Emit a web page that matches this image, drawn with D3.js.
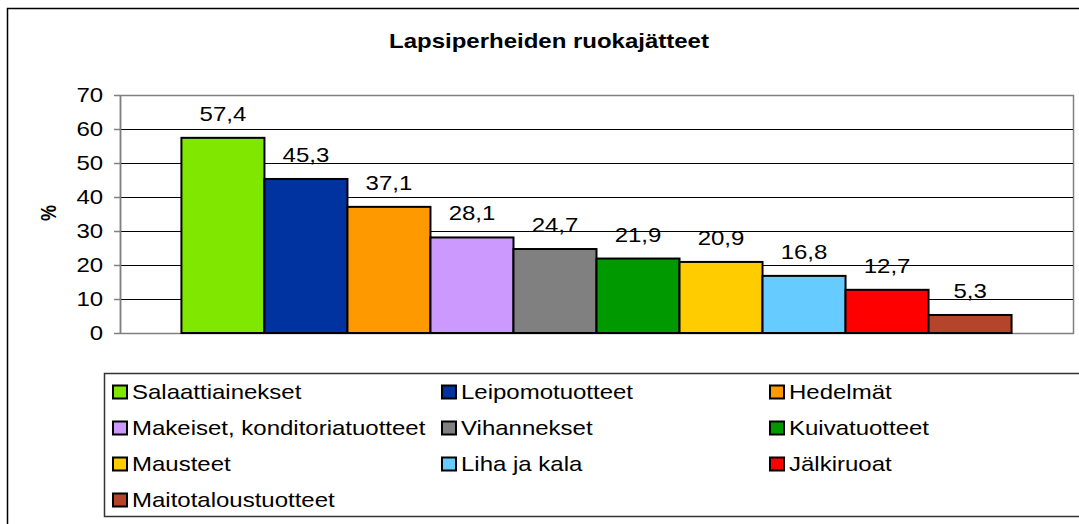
<!DOCTYPE html>
<html>
<head>
<meta charset="utf-8">
<script src="https://cdn.jsdelivr.net/npm/d3@7"></script>
<style>
  body { margin: 0; background: #fff; }
  svg { display: block; font-family: "Liberation Sans", Arial, sans-serif; }
  .y-axis path, .y-axis line { stroke: #808080; }
  .y-axis .domain { stroke: #808080; }
  .grid line { stroke: #000; }
  .grid .domain { display: none; }
</style>
</head>
<body>
<div id="chart--wrap"></div>
<script>
const categories = ['Salaattiainekset', 'Leipomotuotteet', 'Hedelmät',
  'Makeiset, konditoriatuotteet', 'Vihannekset', 'Kuivatuotteet',
  'Mausteet', 'Liha ja kala', 'Jälkiruoat', 'Maitotaloustuotteet'];
const values = [57.4, 45.3, 37.1, 28.1, 24.7, 21.9, 20.9, 16.8, 12.7, 5.3];
const yTicks = [0, 10, 20, 30, 40, 50, 60, 70];
const palette = ['#80E800', '#0033A0', '#FF9900', '#CC99FF', '#808080',
  '#009900', '#FFCC00', '#66CCFF', '#FF0000', '#B5452A'];
const title = 'Lapsiperheiden ruokajätteet';
const yLabel = '%';

const W = 1079, H = 524;
const plot = { left: 120, top: 95, right: 1073, bottom: 333 };
const stretch = 1.2; // text in the reference is wider than it is tall

const fi = d3.formatLocale({ decimal: ',', thousands: ' ', grouping: [3], currency: ['', ''] });
const fmt = fi.format('.1f');

const svg = d3.select('#chart--wrap').append('svg')
  .attr('width', W)
  .attr('height', H);

// outer chart border
svg.append('rect')
  .attr('x', 7.5).attr('y', 8.5)
  .attr('width', W + 10).attr('height', H + 10)
  .attr('fill', '#fff').attr('stroke', '#000').attr('stroke-width', 1.5);

// helper: put text at (x, y) stretched horizontally
const place = (x, y) => `translate(${x},${y}) scale(${stretch},1)`;

// title
svg.append('text')
  .attr('transform', place(549, 48))
  .attr('text-anchor', 'middle')
  .style('font-size', '20px')
  .style('font-weight', 'bold')
  .text(title);

// scales
const y = d3.scaleLinear().domain([0, 70]).range([plot.bottom, plot.top]);
const x0 = d3.scaleBand().domain(['all']).range([plot.left, plot.right])
  .paddingInner(0).paddingOuter(0.074);
const x = d3.scaleBand().domain(categories)
  .range([x0('all'), x0('all') + x0.bandwidth()]).padding(0);
const color = d3.scaleOrdinal().domain(categories).range(palette);

// plot area border (top / right)
svg.append('rect')
  .attr('x', plot.left + 0.5).attr('y', plot.top + 0.5)
  .attr('width', plot.right - plot.left).attr('height', plot.bottom - plot.top)
  .attr('fill', 'none').attr('stroke', '#808080').attr('stroke-width', 1.5);

// grid lines
svg.append('g')
  .attr('class', 'grid')
  .attr('transform', `translate(${plot.left},0)`)
  .call(d3.axisLeft(y).tickValues(yTicks.filter(d => d > 0 && d < 70))
    .tickSize(-(plot.right - plot.left)).tickFormat(''));

// y axis
const yAxisG = svg.append('g')
  .attr('class', 'y-axis')
  .attr('transform', `translate(${plot.left},0)`)
  .call(d3.axisLeft(y).tickValues(yTicks).tickSize(6).tickPadding(8).tickSizeOuter(0));
yAxisG.selectAll('path, line').attr('stroke-width', 1.5);
yAxisG.selectAll('text')
  .attr('fill', '#000')
  .style('font-size', '20px')
  .style('font-family', '"Liberation Sans", Arial, sans-serif')
  .attr('transform', `scale(${stretch},1)`);

// y label
svg.append('text')
  .attr('transform', `translate(56,213) rotate(-90) scale(1,${stretch})`)
  .attr('text-anchor', 'middle')
  .style('font-size', '18px')
  .style('font-weight', 'bold')
  .text(yLabel);

// bars
const bars = svg.append('g');
bars.selectAll('rect')
  .data(categories)
  .enter()
  .append('rect')
  .attr('x', d => x(d))
  .attr('y', (d, i) => y(values[i]))
  .attr('width', x.bandwidth())
  .attr('height', (d, i) => y(0) - y(values[i]))
  .attr('fill', d => color(d))
  .attr('stroke', '#000')
  .attr('stroke-width', 2);

// value labels
bars.selectAll('text')
  .data(categories)
  .enter()
  .append('text')
  .attr('transform', (d, i) => place(x(d) + x.bandwidth() / 2, y(values[i]) - 17))
  .attr('text-anchor', 'middle')
  .style('font-size', '20px')
  .text((d, i) => fmt(values[i]));

// legend
const legend = { left: 104, top: 373, bottom: 516 };
svg.append('rect')
  .attr('x', legend.left + 0.5).attr('y', legend.top + 0.5)
  .attr('width', W).attr('height', legend.bottom - legend.top)
  .attr('fill', '#fff').attr('stroke', '#333').attr('stroke-width', 1.5);

const colX = [112, 441, 769];
const rowY = [392, 428, 464, 500];
const key = svg.append('g').selectAll('g')
  .data(categories)
  .enter()
  .append('g')
  .attr('transform', (d, i) => `translate(${colX[i % 3]},${rowY[Math.floor(i / 3)]})`);

key.append('rect')
  .attr('x', 1).attr('y', -6.5)
  .attr('width', 14).attr('height', 13)
  .attr('fill', d => color(d))
  .attr('stroke', '#000')
  .attr('stroke-width', 2);

key.append('text')
  .attr('transform', place(20, 7))
  .style('font-size', '20px')
  .text(d => d);
</script>
</body>
</html>
